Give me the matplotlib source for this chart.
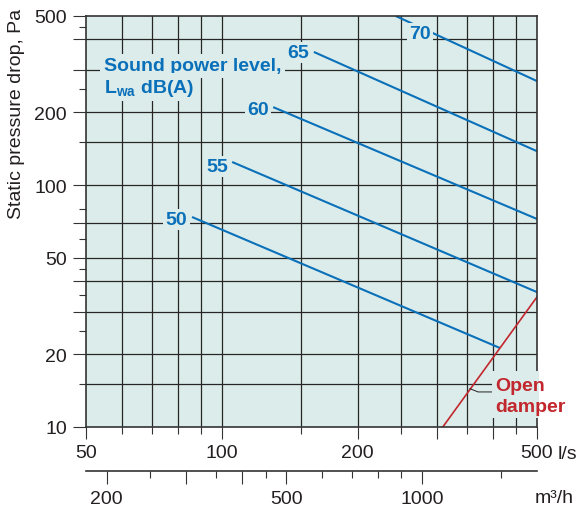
import matplotlib
matplotlib.use("Agg")
import matplotlib.pyplot as plt
from matplotlib.ticker import NullFormatter
from matplotlib.patches import Rectangle

plt.rcParams["font.family"] = ["Liberation Sans", "DejaVu Sans"]
plt.rcParams["mathtext.fontset"] = "custom"
plt.rcParams["mathtext.rm"] = "Liberation Sans"
plt.rcParams["mathtext.bf"] = "Liberation Sans:bold"

# sound power level lines: air flow (l/s) and pressure drop (Pa) at both ends
LEVELS = ["50", "55", "60", "65", "70"]
LEVEL_FLOW = [[85.9, 414], [105.4, 500], [130, 500], [160, 500], [243, 500]]
LEVEL_DP = [[73.8, 21.2], [124.6, 36.1], [210, 72.4], [355, 138], [500, 269]]

# open damper curve
DAMPER_FLOW = [309, 500]
DAMPER_DP = [10, 34.5]

X_LONG = [50, 100, 200, 300, 400, 500]
X_LONG_LABELS = ["50", "100", "200", "", "", "500"]
X_SHORT = [60, 70, 80, 90, 150, 250, 350, 450]
X_GRID = [60, 70, 80, 90, 100, 150, 200, 250, 300, 350, 400, 450]

Y_LONG = [10, 20, 30, 40, 50, 70, 100, 200, 300, 400, 500]
Y_LONG_LABELS = ["10", "20", "", "", "50", "", "100", "200", "", "", "500"]
Y_SHORT = [15, 25, 35, 45, 60, 80, 150, 250, 450]
Y_GRID = [15, 20, 30, 40, 50, 70, 100, 150, 200, 300, 400]

M3H_LONG = [200, 300, 400, 500, 1000]
M3H_LONG_LABELS = ["200", "", "", "500", "1000"]
M3H_SHORT = [250, 350, 450, 600, 700, 800, 900, 1500]

BG = "#dcecea"
BLUE = "#0a70b9"
RED = "#c1272d"
INK = "#231f20"
GRID = "#262626"

fig = plt.figure(figsize=(5.84, 5.10), dpi=100)
ax = fig.add_axes([0.1473, 0.1608, 0.7723, 0.8059])
ax.set_facecolor(BG)
ax.set_xscale("log")
ax.set_yscale("log")
ax.set_xlim(50, 500)
ax.set_ylim(10, 500)

for x in X_GRID:
    ax.axvline(x, color=GRID, lw=0.9, zorder=1)
for y in Y_GRID:
    ax.axhline(y, color=GRID, lw=0.9, zorder=1)

for sp in ax.spines.values():
    sp.set_linewidth(1.2)
    sp.set_color("#333333")

ax.set_xticks(X_LONG, labels=X_LONG_LABELS)
ax.set_xticks(X_SHORT, minor=True)
ax.set_yticks(Y_LONG, labels=Y_LONG_LABELS)
ax.set_yticks(Y_SHORT, minor=True)
ax.xaxis.set_minor_formatter(NullFormatter())
ax.yaxis.set_minor_formatter(NullFormatter())
ax.tick_params(axis="x", which="major", length=8.6, width=0.8, pad=3.6,
               labelsize=14, colors="#333333", labelcolor=INK)
ax.tick_params(axis="x", which="minor", length=5, width=0.8, color="#333333")
ax.tick_params(axis="y", which="major", length=9.4, width=0.8, pad=4.3,
               labelsize=14, colors="#333333", labelcolor=INK)
ax.tick_params(axis="y", which="minor", length=5, width=0.8, color="#333333")

# sound power lines
lab_box = dict(boxstyle="square,pad=0.12", fc=BG, ec="none")
LABEL_POS = [(79.3, 69.0), (97.9, 114.4), (120.3, 196.8), (147.6, 338.6), (275.1, 405.5)]
for lvl, q, p, (lx, ly) in zip(LEVELS, LEVEL_FLOW, LEVEL_DP, LABEL_POS):
    ax.plot(q, p, color=BLUE, lw=1.5, zorder=2, solid_capstyle="butt")
    ax.text(lx, ly, lvl, color=BLUE, fontsize=14, fontweight="bold",
            ha="center", va="baseline", bbox=lab_box, zorder=4)

ax.text(54.8, 299, "Sound power level,", color=BLUE, fontsize=14,
        fontweight="bold", ha="left", va="baseline",
        bbox=dict(boxstyle="square,pad=0.18", fc=BG, ec="none"), zorder=4)
ax.text(54.8, 242.6, r"$\mathbf{L_{wa}}$ dB(A)", color=BLUE, fontsize=14,
        fontweight="bold", ha="left", va="baseline",
        bbox=dict(boxstyle="square,pad=0.18", fc=BG, ec="none"), zorder=4)

# open damper
ax.plot(DAMPER_FLOW, DAMPER_DP, color=RED, lw=1.2, zorder=2)
ax.plot([355, 370, 397.4], [14.4, 13.96, 13.96], color=INK, lw=0.7, zorder=2)
ax.add_patch(Rectangle((0.900, 0.0219), 0.1044, 0.1144, transform=ax.transAxes,
                       fc=BG, ec="none", clip_on=False, zorder=3))
ax.text(403.6, 14.2, "Open", color=RED, fontsize=14, fontweight="bold",
        ha="left", va="baseline", zorder=4, clip_on=False)
ax.text(403.6, 11.6, "damper", color=RED, fontsize=14, fontweight="bold",
        ha="left", va="baseline", zorder=4, clip_on=False)

# second flow scale in m3/h
secax = ax.secondary_xaxis(-0.107, functions=(lambda q: q * 3.6, lambda q: q / 3.6))
secax.set_xticks(M3H_LONG, labels=M3H_LONG_LABELS)
secax.set_xticks(M3H_SHORT, minor=True)
secax.xaxis.set_minor_formatter(NullFormatter())
secax.tick_params(which="major", length=9.4, width=0.8, pad=4.3, labelsize=14,
                  colors="#333333", labelcolor=INK)
secax.tick_params(which="minor", length=5, width=0.8, color="#333333")
for sp in secax.spines.values():
    sp.set_linewidth(1.2)
    sp.set_color("#333333")

fig.text(558 / 584, 1 - 459 / 510, "l/s", fontsize=14, color=INK,
         ha="left", va="baseline")
fig.text(535 / 584, 1 - 503 / 510, "m³/h", fontsize=14, color=INK,
         ha="left", va="baseline")
fig.text(17 / 584, 1 - 114 / 510, "Static pressure drop, Pa", fontsize=14,
         color=INK, rotation=90, ha="center", va="center")

fig.savefig("out.png", dpi=100)
